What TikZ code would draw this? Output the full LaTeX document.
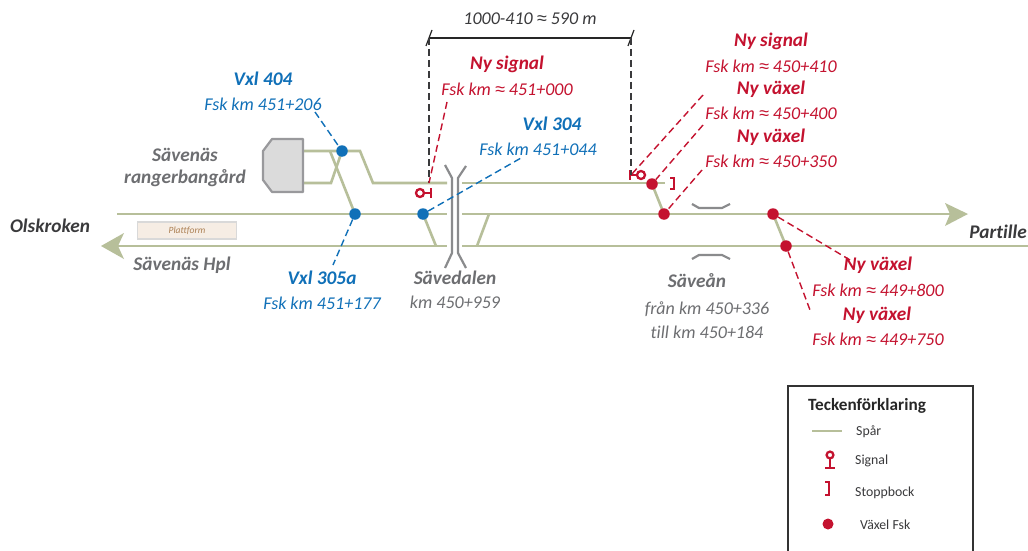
\documentclass[tikz,border=0pt]{standalone}
\usepackage{fontspec}
\setmainfont{Carlito}[Ligatures={NoCommon}]
\newfontfamily\apxfont{Liberation Sans}
\newcommand{\apx}{{\apxfont\itshape ≈}}
\definecolor{trk}{HTML}{B7BF9A}
\definecolor{rd}{HTML}{C4122F}
\definecolor{bl}{HTML}{1070B8}
\definecolor{gr}{HTML}{6D6E71}
\definecolor{dk}{HTML}{3A3A3C}
\tikzset{
 x=1pt,y=-1pt,
 track/.style={draw=trk,line width=2.6pt},
 lead/.style={line width=1.4pt,dash pattern=on 7pt off 4pt},
 rlead/.style={lead,draw=rd},
 blead/.style={lead,draw=bl},
 klead/.style={lead,draw=dk},
 rdot/.style={circle,fill=rd,inner sep=0,minimum size=11.5pt},
 bdot/.style={circle,fill=bl,inner sep=0,minimum size=11.5pt},
 txt/.style={inner sep=0,font=\fontsize{18}{20}\selectfont\itshape},
 head/.style={inner sep=0,font=\fontsize{19.3}{20}\selectfont\bfseries\itshape},
 bridge/.style={draw=gr!80,line width=2.2pt,line join=round},
 sigline/.style={draw=rd,line width=2.3pt},
 leg/.style={inner sep=0,anchor=west,text=dk,font=\fontsize{13.8}{15}\selectfont},
}
\begin{document}
\begin{tikzpicture}
\useasboundingbox[fill=white] (0,0) rectangle (1028,551);
% tracks
\coordinate (m1) at (117,214); \coordinate (m2) at (447,214); \coordinate (m3) at (462,214); \coordinate (m4) at (950,214);
\coordinate (l1) at (115,246); \coordinate (l2) at (447,246); \coordinate (l3) at (462,246); \coordinate (l4) at (1028,246);
\draw[track] (m1) -- (m2) (m3) -- (m4);
\draw[track] (l1) -- (l2) (l3) -- (l4);
\draw[track] (303,151) -- (360,151) -- (373,183) -- (447,183);
\draw[track] (462,183) -- (665,183);
\draw[track] (303,183) -- (331,183) -- (342,151);
\draw[track] (330,151) -- (355,214);
\draw[track] (423,214) -- (436,246);
\draw[track] (489,214) -- (477,246);
\draw[track] (652,184) -- (664,214);
\draw[track] (773,214) -- (786,246);
% arrow heads
\fill[trk] (968,214) -- (945,203) -- (950,214) -- (945,226) -- cycle;
\fill[trk] (101,246) -- (124,233) -- (118,246) -- (124,259) -- cycle;
% building
\draw[draw=gr!70,fill=gray!28,line width=2.2pt,line join=round] (303,139) -- (272,139) -- (263,151) -- (263,180) -- (272,192) -- (303,192) -- cycle;
% platform
\node[draw=black!15,fill=brown!14,line width=1.2pt,minimum width=99pt,minimum height=17pt,inner sep=0,text=brown!70!gray,font=\fontsize{9.5}{10}\selectfont\itshape] (plat) at (187,230.5) {Plattform};
% bridges
\draw[bridge] (445,165) -- (452,178) -- (452,253) -- (445,268);
\draw[bridge] (466,166) -- (458,178) -- (458,253) -- (466,268);
\draw[bridge] (692,204) -- (699,208) -- (722,208) -- (730,204);
\draw[bridge] (692,259) -- (699,255) -- (722,255) -- (730,259);
% dots
\node[bdot] (v404) at (342,151) {};
\node[bdot] (v305) at (355,214) {};
\node[bdot] (v304) at (423,214) {};
\node[rdot] (r1) at (652,184) {};
\node[rdot] (r2) at (664,214) {};
\node[rdot] (r3) at (773,214) {};
\node[rdot] (r4) at (786,246) {};
% signals
\coordinate (s1) at (429,183); \coordinate (s2) at (631,175);
\draw[sigline] (431,188) -- (431,198) (431,193) -- (424,193);
\draw[sigline,fill=white] (420,193) circle (4pt);
\draw[sigline] (630,170) -- (630,180) (630,175) -- (637,175);
\draw[sigline,fill=white] (641,175) circle (4pt);
\draw[sigline] (670,178) -- (674,178) -- (674,189) -- (670,189);
% dimension
\coordinate (d1) at (429,38); \coordinate (d2) at (631,38);
\draw[draw=black!85,line width=1.2pt] (d1) -- (d2);
\draw[draw=black!85,line width=1.2pt] (426,46) -- (432,30) (628,46) -- (634,30);
\draw[klead] (d1) -- (s1);
\draw[klead] (d2) -- (s2);
\node[txt,text=dk] (dimt) at (530,19) {1000-410 \apx{} 590 m};
% labels
\node[head,text=bl] (t404) at (263,79) {Vxl 404};
\node[txt,text=bl] (f404) at (263,104) {Fsk km 451+206};
\node[head,text=bl] (t305) at (322,278) {Vxl 305a};
\node[txt,text=bl] (f305) at (322,303) {Fsk km 451+177};
\node[head,text=bl] (t304) at (552,124) {Vxl 304};
\node[txt,text=bl] (f304) at (538,149) {Fsk km 451+044};
\node[head,text=rd] (tns) at (507,64) {Ny signal};
\node[txt,text=rd] (fns) at (507,89) {Fsk km \apx{} 451+000};
\node[head,text=rd] (a1) at (771,41) {Ny signal};
\node[txt,text=rd] (a2) at (771,66) {Fsk km \apx{} 450+410};
\node[head,text=rd] (b1) at (771,89) {Ny växel};
\node[txt,text=rd] (b2) at (771,113) {Fsk km \apx{} 450+400};
\node[head,text=rd] (c1) at (771,137) {Ny växel};
\node[txt,text=rd] (c2) at (771,161) {Fsk km \apx{} 450+350};
\node[head,text=rd] (e1) at (878,265) {Ny växel};
\node[txt,text=rd] (e2) at (878,290) {Fsk km \apx{} 449+800};
\node[head,text=rd] (g1) at (877,315) {Ny växel};
\node[txt,text=rd] (g2) at (878,339) {Fsk km \apx{} 449+750};
\node[head,text=gr] (n1) at (185,155) {Sävenäs};
\node[head,text=gr] (n2) at (185,178) {rangerbangård};
\node[head,text=dk] (n3) at (50,226) {Olskroken};
\node[head,text=dk] (n4) at (998,232) {Partille};
\node[head,text=gr] (n5) at (182,265) {Sävenäs Hpl};
\node[head,text=gr] (n6) at (455,278) {Sävedalen};
\node[txt,text=gr] (n7) at (455,302) {km 450+959};
\node[head,text=gr] (n8) at (697,281) {Säveån};
\node[txt,text=gr] (n9) at (707,309) {från km 450+336};
\node[txt,text=gr] (n10) at (707,332) {till km 450+184};
% leaders
\coordinate (q1) at (315,112);
\coordinate (q2) at (333,265);
\coordinate (q3) at (447,102);
\coordinate (q4) at (521,158);
\coordinate (q5) at (703,95);
\coordinate (q6) at (703,125);
\coordinate (q7) at (702,170);
\coordinate (q8) at (850,260);
\coordinate (q9) at (810,310);
\draw[blead] (q1) -- (v404);
\draw[blead] (v305) -- (q2);
\draw[blead] (v304) -- (q4);
\draw[rlead] (q3) -- (s1);
\draw[rlead] (q5) -- (s2);
\draw[rlead] (q6) -- (r1);
\draw[rlead] (q7) -- (r2);
\draw[rlead] (r3) -- (q8);
\draw[rlead] (r4) -- (q9);
% legend
\begin{scope}
\clip (780,380) rectangle (980,551);
\draw[draw=black!80,line width=1.5pt] (788,386) rectangle (973,560);
\end{scope}
\node[inner sep=0,anchor=west,text=black!85,font=\fontsize{17.2}{18}\selectfont\bfseries] (lt) at (808,406) {Teckenförklaring};
\coordinate (la) at (812,431); \coordinate (lb) at (842,431);
\draw[track] (la) -- (lb);
\node[leg] (l1t) at (856,432) {Spår};
\draw[sigline] (830,457) -- (830,468) (825,468) -- (835,468);
\draw[sigline,fill=white] (830,455) circle (3.4pt);
\node[leg] (l2t) at (855,461) {Signal};
\draw[sigline] (825,482) -- (829,482) -- (829,495) -- (825,495);
\node[leg] (l3t) at (855,493) {Stoppbock};
\node[rdot,minimum size=11pt] (l4d) at (828,524) {};
\node[leg] (l4t) at (860,525) {Växel Fsk};
\end{tikzpicture}
\end{document}
